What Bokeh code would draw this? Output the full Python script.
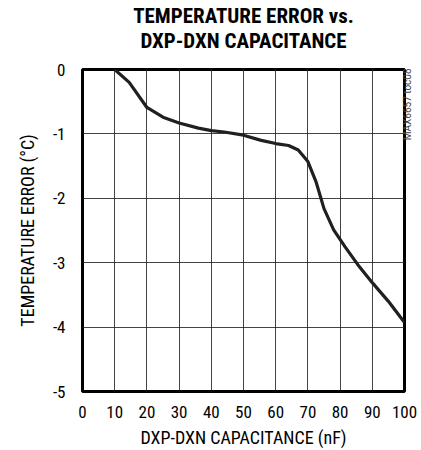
from bokeh.plotting import figure
from bokeh.models import Range1d, FixedTicker, LinearAxis
from bokeh.embed import file_html
from bokeh.resources import INLINE

# ---- data ----
capacitance_nf = [10, 14.5, 20, 25, 30, 36, 40, 44, 50, 55.5, 60, 64, 67, 70, 72.5, 75, 78, 81.5, 85.5, 90, 95, 100]
temp_error_c = [0, -0.2, -0.59, -0.74, -0.83, -0.91, -0.95, -0.97, -1.02, -1.10, -1.15, -1.18, -1.25, -1.43,
                -1.74, -2.16, -2.49, -2.75, -3.03, -3.31, -3.60, -3.93]
x_ticks = [0, 10, 20, 30, 40, 50, 60, 70, 80, 90, 100]
x_tick_labels = ["0", "10", "20", "30", "40", "50", "60", "70", "80", "90", "100"]
y_ticks = [0, -1, -2, -3, -4, -5]
y_tick_labels = ["0", "-1", "-2", "-3", "-4", "-5"]
title_lines = ["TEMPERATURE ERROR vs.", "DXP-DXN CAPACITANCE"]
x_label = "DXP-DXN CAPACITANCE (nF)"
y_label = "TEMPERATURE ERROR (°C)"
side_note = "MAX6657 toc08"
side_note_at = -1.1

FONT = "Roboto Condensed"

p = figure(width=421, height=450, output_backend="svg", toolbar_location=None,
           x_range=Range1d(0, 100), y_range=Range1d(-5, 0),
           min_border_left=82, min_border_right=14, min_border_top=67, min_border_bottom=58)
p.title = None

p.outline_line_color = "black"
p.outline_line_width = 3
p.background_fill_color = "white"
p.border_fill_color = "white"

for ax in (p.xaxis[0], p.yaxis[0]):
    ax.axis_line_color = None
    ax.major_tick_line_color = None
    ax.minor_tick_line_color = None
    ax.major_tick_out = 0
    ax.major_tick_in = 0
    ax.minor_tick_out = 0
    ax.major_label_text_font = FONT
    ax.major_label_text_font_size = "17px"
    ax.major_label_text_color = "black"
    ax.axis_label_text_font = FONT
    ax.axis_label_text_font_size = "18px"
    ax.axis_label_text_font_style = "normal"
    ax.axis_label_text_color = "black"

p.xaxis.ticker = FixedTicker(ticks=x_ticks)
p.xaxis.major_label_overrides = {t: s for t, s in zip(x_ticks, x_tick_labels)}
p.xaxis.major_label_standoff = 14
p.xaxis.axis_label = x_label
p.xaxis.axis_label_standoff = 6

p.yaxis.ticker = FixedTicker(ticks=y_ticks)
p.yaxis.major_label_overrides = {t: s for t, s in zip(y_ticks, y_tick_labels)}
p.yaxis.major_label_standoff = 17
p.yaxis.axis_label = y_label
p.yaxis.axis_label_standoff = 12

# two-line title, carried by an unmarked axis above the frame
title_axis = LinearAxis(ticker=FixedTicker(ticks=[50]),
                        major_label_overrides={50: title_lines[1]},
                        axis_label=title_lines[0],
                        major_label_standoff=17, axis_label_standoff=-2,
                        major_label_text_font=FONT, major_label_text_font_size="21px",
                        major_label_text_font_style="bold", major_label_text_color="black",
                        axis_label_text_font=FONT, axis_label_text_font_size="21px",
                        axis_label_text_font_style="bold", axis_label_text_color="black",
                        axis_line_color=None, major_tick_line_color=None, minor_tick_line_color=None,
                        major_tick_out=0, major_tick_in=0, minor_tick_out=0)
p.add_layout(title_axis, "above")

# small figure code on the right edge, reading upward
note_axis = LinearAxis(ticker=FixedTicker(ticks=[side_note_at]),
                       major_label_overrides={side_note_at: side_note},
                       major_label_orientation=1.5708, major_label_standoff=3,
                       major_label_text_font="Roboto", major_label_text_font_size="10px",
                       major_label_text_color="#444444", axis_line_color=None,
                       major_tick_line_color=None, minor_tick_line_color=None,
                       major_tick_out=0, major_tick_in=0, minor_tick_out=0)
p.add_layout(note_axis, "right")

p.xgrid.ticker = FixedTicker(ticks=x_ticks[1:-1])
p.ygrid.ticker = FixedTicker(ticks=y_ticks[1:-1])
for g in (p.xgrid[0], p.ygrid[0]):
    g.grid_line_color = "#222222"
    g.grid_line_width = 1
    g.grid_line_alpha = 0.85

p.line(capacitance_nf, temp_error_c, line_color="#231f20", line_width=3.2)

open("out.html", "w").write(file_html(p, INLINE))
